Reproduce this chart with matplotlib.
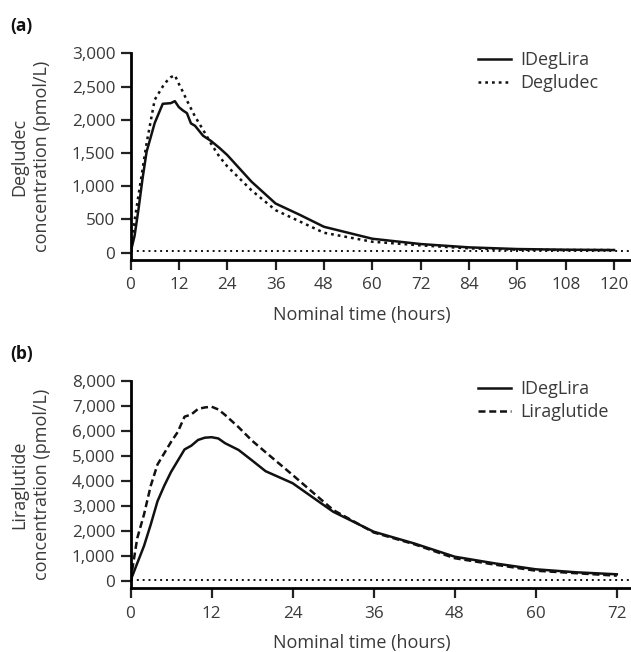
import matplotlib
matplotlib.use('Agg')
import matplotlib.pyplot as plt

plt.rcParams['font.family'] = ['Open Sans', 'DejaVu Sans']

# panel (a): degludec, nominal time in hours
time_a = [0, 1, 2, 3, 4, 6, 8, 9, 10, 11, 12, 13, 14, 15, 16, 18, 20, 22, 24, 30, 36, 42, 48, 60, 72, 84, 96, 108, 120]
ideglira_a = [0, 250, 660, 1120, 1520, 1950, 2240, 2245, 2250, 2280, 2190, 2140, 2100, 1945, 1910, 1760, 1680, 1580, 1470, 1070, 740, 570, 390, 210, 130, 80, 55, 45, 40]
degludec_a = [0, 480, 870, 1260, 1650, 2300, 2500, 2580, 2640, 2670, 2540, 2420, 2290, 2170, 2050, 1850, 1640, 1450, 1300, 940, 640, 470, 300, 165, 110, 65, 45, 40, 40]
lloq_a = 30

# panel (b): liraglutide
time_b = [0, 1, 2, 3, 4, 5, 6, 7, 8, 9, 10, 11, 12, 13, 14, 16, 18, 20, 24, 30, 36, 42, 48, 54, 60, 66, 72]
ideglira_b = [0, 700, 1390, 2250, 3180, 3800, 4350, 4800, 5250, 5400, 5630, 5720, 5740, 5690, 5500, 5230, 4810, 4380, 3900, 2760, 1960, 1490, 960, 690, 456, 336, 256]
liraglutide_b = [0, 1700, 2650, 3800, 4650, 5100, 5550, 5950, 6560, 6650, 6870, 6930, 6960, 6850, 6630, 6140, 5600, 5140, 4230, 2830, 1930, 1460, 900, 640, 400, 300, 200]
lloq_b = 40

txt = '#3a3a3a'
W, H = 631, 652
fig = plt.figure(figsize=(W / 100, H / 100), dpi=100)

left = 130.5 / W
ax1 = fig.add_axes([left, 1 - 260 / H, 1 - left, (260 - 53.3) / H])
ax2 = fig.add_axes([left, 1 - 588.3 / H, 1 - left, (588.3 - 380.7) / H])


def style(ax, xmax, xticks, ymin, ymax, ystep, ylabel, h_px):
    for s in ['top', 'right']:
        ax.spines[s].set_visible(False)
    for s in ['left', 'bottom']:
        ax.spines[s].set_linewidth(2)
    ax.set_xlim(0, xmax)
    ax.set_ylim(ymin, ymax)
    ax.set_xticks(xticks)
    ax.set_yticks(range(0, ymax + 1, ystep))
    ax.set_yticklabels([f'{v:,}' for v in range(0, ymax + 1, ystep)])
    ax.tick_params(direction='out', length=7.5, width=1.6, colors='#222222',
                   labelcolor=txt, labelsize=12.3)
    ax.tick_params(axis='x', pad=5)
    ax.tick_params(axis='y', pad=3.5)
    ax.set_ylabel(ylabel, fontsize=13, color=txt, linespacing=1.35, va='center')
    ax.yaxis.set_label_coords((31 - 130.5) / 500.5, 0.5)
    ax.set_xlabel('Nominal time (hours)', fontsize=13, color=txt)
    ax.xaxis.set_label_coords((362 - 130.5) / 500.5, -46 / h_px)


ax1.plot(time_a, ideglira_a, color='#111111', lw=1.8, label='IDegLira')
ax1.plot(time_a, degludec_a, color='#111111', lw=1.8, dashes=(1.1, 1.6), label='Degludec')
ax1.axhline(lloq_a, color='#111111', lw=1.4, dashes=(1, 2))
style(ax1, 124.2, range(0, 121, 12), -110, 3000, 500,
      'Degludec\nconcentration (pmol/L)', 206.7)

ax2.plot(time_b, ideglira_b, color='#111111', lw=1.8, label='IDegLira')
ax2.plot(time_b, liraglutide_b, color='#111111', lw=1.8, dashes=(2.8, 1.5), label='Liraglutide')
ax2.axhline(lloq_b, color='#111111', lw=1.4, dashes=(1, 2))
style(ax2, 74.1, range(0, 73, 12), -304, 8000, 1000,
      'Liraglutide\nconcentration (pmol/L)', 207.6)

for ax, top in ((ax1, 51), (ax2, 380)):
    leg = ax.legend(loc='upper left', bbox_to_anchor=(478 / W, 1 - top / H),
                    bbox_transform=fig.transFigure, frameon=False,
                    fontsize=13, handlelength=1.85, handletextpad=0.5,
                    labelspacing=0.3, borderaxespad=0, borderpad=0)
    for t in leg.get_texts():
        t.set_color(txt)

fig.text(10 / W, 1 - 26 / H, '(a)', fontsize=12.5, fontweight='bold', color='#111111', va='center')
fig.text(10 / W, 1 - 354 / H, '(b)', fontsize=12.5, fontweight='bold', color='#111111', va='center')

fig.savefig('out.png', dpi=100)
